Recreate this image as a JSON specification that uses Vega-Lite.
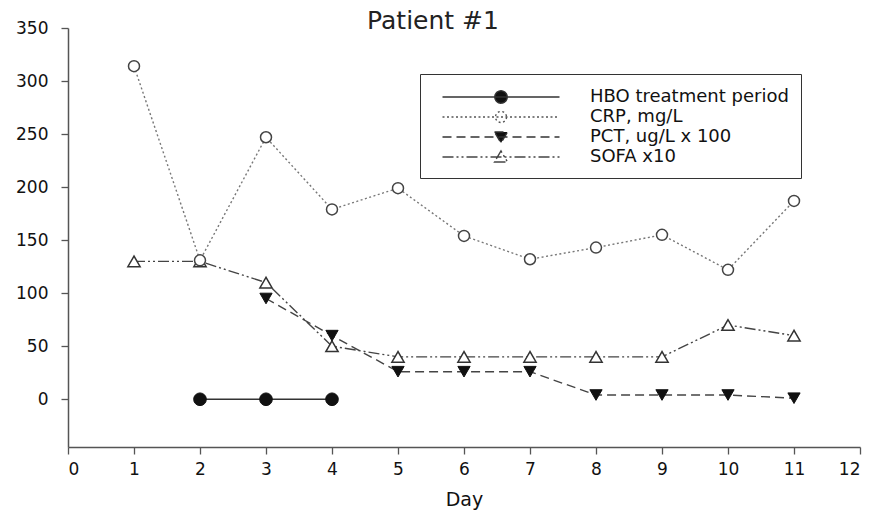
{
  "$schema": "https://vega.github.io/schema/vega-lite/v6.json",
  "width": 792,
  "height": 419,
  "autosize": {"type": "none"},
  "padding": {"left": 68, "top": 28, "right": 15, "bottom": 67},
  "background": "white",
  "title": {"text": "Patient #1", "font": "DejaVu Sans", "fontSize": 25, "fontWeight": "normal", "color": "#222", "anchor": "middle", "frame": "group", "dx": -31, "baseline": "alphabetic", "offset": 0, "dy": 35},
  "data": {
    "values": [
      {"day": 2, "value": 0, "series": "HBO treatment period"},
      {"day": 3, "value": 0, "series": "HBO treatment period"},
      {"day": 4, "value": 0, "series": "HBO treatment period"},
      {"day": 1, "value": 314, "series": "CRP, mg/L"},
      {"day": 2, "value": 131, "series": "CRP, mg/L"},
      {"day": 3, "value": 247, "series": "CRP, mg/L"},
      {"day": 4, "value": 179, "series": "CRP, mg/L"},
      {"day": 5, "value": 199, "series": "CRP, mg/L"},
      {"day": 6, "value": 154, "series": "CRP, mg/L"},
      {"day": 7, "value": 132, "series": "CRP, mg/L"},
      {"day": 8, "value": 143, "series": "CRP, mg/L"},
      {"day": 9, "value": 155, "series": "CRP, mg/L"},
      {"day": 10, "value": 122, "series": "CRP, mg/L"},
      {"day": 11, "value": 187, "series": "CRP, mg/L"},
      {"day": 3, "value": 95, "series": "PCT, ug/L x 100"},
      {"day": 4, "value": 60, "series": "PCT, ug/L x 100"},
      {"day": 5, "value": 26, "series": "PCT, ug/L x 100"},
      {"day": 6, "value": 26, "series": "PCT, ug/L x 100"},
      {"day": 7, "value": 26, "series": "PCT, ug/L x 100"},
      {"day": 8, "value": 4, "series": "PCT, ug/L x 100"},
      {"day": 9, "value": 4, "series": "PCT, ug/L x 100"},
      {"day": 10, "value": 4, "series": "PCT, ug/L x 100"},
      {"day": 11, "value": 1, "series": "PCT, ug/L x 100"},
      {"day": 1, "value": 130, "series": "SOFA x10"},
      {"day": 2, "value": 130, "series": "SOFA x10"},
      {"day": 3, "value": 110, "series": "SOFA x10"},
      {"day": 4, "value": 50, "series": "SOFA x10"},
      {"day": 5, "value": 40, "series": "SOFA x10"},
      {"day": 6, "value": 40, "series": "SOFA x10"},
      {"day": 7, "value": 40, "series": "SOFA x10"},
      {"day": 8, "value": 40, "series": "SOFA x10"},
      {"day": 9, "value": 40, "series": "SOFA x10"},
      {"day": 10, "value": 70, "series": "SOFA x10"},
      {"day": 11, "value": 60, "series": "SOFA x10"}
    ]
  },
  "encoding": {
    "x": {
      "field": "day", "type": "quantitative",
      "scale": {"domain": [0, 12], "nice": false, "zero": false},
      "axis": {"values": [0, 1, 2, 3, 4, 5, 6, 7, 8, 9, 10, 11, 12], "title": "Day", "labelPadding": 7, "titlePadding": 13, "titleFontSize": 19}
    },
    "y": {
      "field": "value", "type": "quantitative",
      "scale": {"domain": [-45, 350], "nice": false, "zero": false},
      "axis": {"values": [0, 50, 100, 150, 200, 250, 300, 350], "title": null, "labelPadding": 13}
    }
  },
  "layer": [
    {"transform": [{"filter": {"field": "series", "equal": "SOFA x10"}}],
     "mark": {"type": "line", "stroke": "#444", "strokeWidth": 1.4, "strokeDash": [11, 3, 2, 3, 2, 3]}, "encoding": {}},
    {"transform": [{"filter": {"field": "series", "equal": "PCT, ug/L x 100"}}],
     "mark": {"type": "line", "stroke": "#444", "strokeWidth": 1.4, "strokeDash": [9, 5]}, "encoding": {}},
    {"transform": [{"filter": {"field": "series", "equal": "CRP, mg/L"}}],
     "mark": {"type": "line", "stroke": "#777", "strokeWidth": 1.4, "strokeDash": [2, 2.5]}, "encoding": {}},
    {"transform": [{"filter": {"field": "series", "equal": "HBO treatment period"}}],
     "mark": {"type": "line", "stroke": "#333", "strokeWidth": 1.5}, "encoding": {}},
    {"transform": [{"filter": {"field": "series", "equal": "SOFA x10"}}],
     "mark": {"type": "point", "shape": "triangle-up", "filled": false, "fill": "white", "fillOpacity": 1, "stroke": "#333", "strokeWidth": 1.5, "opacity": 1, "size": 150}},
    {"transform": [{"filter": {"field": "series", "equal": "PCT, ug/L x 100"}}],
     "mark": {"type": "point", "shape": "triangle-down", "filled": true, "fill": "#111", "stroke": "#111", "strokeWidth": 1, "opacity": 1, "size": 150}},
    {"transform": [{"filter": {"field": "series", "equal": "CRP, mg/L"}}],
     "mark": {"type": "point", "shape": "circle", "filled": false, "fill": "white", "fillOpacity": 1, "stroke": "#444", "strokeWidth": 1.5, "opacity": 1, "size": 121}},
    {"transform": [{"filter": {"field": "series", "equal": "HBO treatment period"}}],
     "mark": {"type": "point", "shape": "circle", "filled": true, "fill": "#111", "stroke": "#111", "strokeWidth": 1, "opacity": 1, "size": 160}},
    {"transform": [{"filter": "datum.day < 0"}],
     "mark": {"type": "point", "filled": false, "strokeWidth": 1.4},
     "encoding": {
       "shape": {"field": "series", "type": "nominal",
         "scale": {"domain": ["HBO treatment period", "CRP, mg/L", "PCT, ug/L x 100", "SOFA x10"],
           "range": [
             "M-5.85,0H5.85M0.62,0A0.62,0.62,0,1,1,-0.62,0A0.62,0.62,0,1,1,0.62,0Z",
             "M-5.85,0H5.85M0.55,0A0.55,0.55,0,1,1,-0.55,0A0.55,0.55,0,1,1,0.55,0Z",
             "M-5.85,0H5.85M-0.65,-0.5L0.65,-0.5L0,0.6Z",
             "M-5.85,0H5.85M-0.65,0.5L0.65,0.5L0,-0.6Z"
           ]},
         "legend": {"title": null}},
       "fill": {"field": "series", "type": "nominal",
         "scale": {"domain": ["HBO treatment period", "CRP, mg/L", "PCT, ug/L x 100", "SOFA x10"], "range": ["#111", "white", "#111", "white"]},
         "legend": {"title": null}},
       "stroke": {"field": "series", "type": "nominal",
         "scale": {"domain": ["HBO treatment period", "CRP, mg/L", "PCT, ug/L x 100", "SOFA x10"], "range": ["#333", "#555", "#333", "#444"]},
         "legend": {"title": null}},
       "strokeDash": {"field": "series", "type": "nominal",
         "scale": {"domain": ["HBO treatment period", "CRP, mg/L", "PCT, ug/L x 100", "SOFA x10"], "range": [[1, 0], [2, 2.5], [9, 5], [11, 3, 2, 3, 2, 3]]},
         "legend": {"title": null}}
     }}
  ],
  "config": {
    "view": {"stroke": null},
    "axis": {
      "grid": false, "domainColor": "#555", "domainWidth": 1.5, "tickColor": "#555", "tickWidth": 1.3, "tickSize": 7,
      "labelFont": "DejaVu Sans", "labelFontSize": 17, "labelColor": "#111",
      "titleFont": "DejaVu Sans", "titleFontWeight": "normal", "titleColor": "#111"
    },
    "legend": {
      "orient": "none", "legendX": 352, "legendY": 46, "padding": 12, "rowPadding": -1,
      "strokeColor": "#333", "symbolSize": 400, "symbolOffset": 58, "labelOffset": 78,
      "symbolStrokeWidth": 1.4, "symbolOpacity": 1,
      "labelFont": "DejaVu Sans", "labelFontSize": 18, "labelColor": "#111", "labelLimit": 400
    }
  }
}
